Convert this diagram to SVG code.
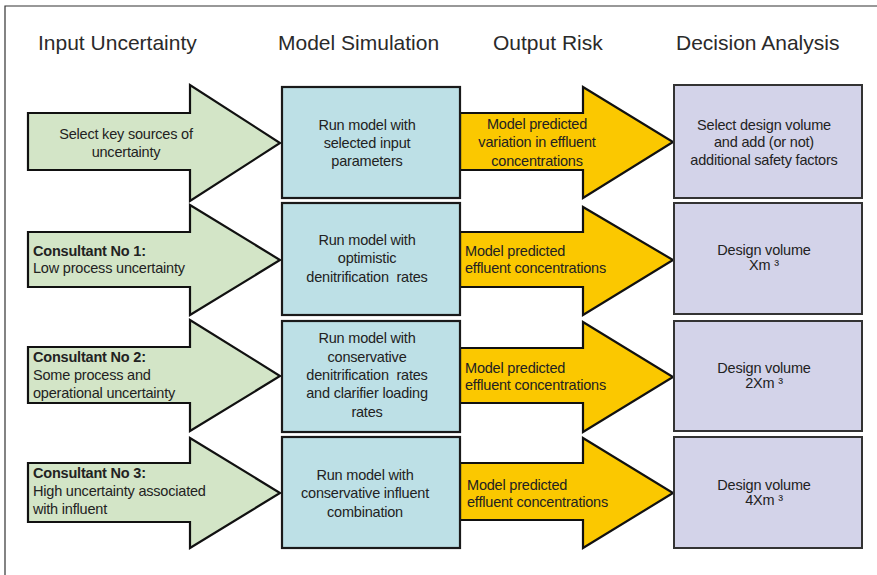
<svg xmlns="http://www.w3.org/2000/svg" width="877" height="575" viewBox="0 0 877 575">
<style>
.hdr{font-family:"Liberation Sans",Arial,sans-serif;font-size:21px;fill:#2a2a2a;}
.t{font-family:"Liberation Sans",Arial,sans-serif;font-size:14.5px;fill:#222;letter-spacing:-0.2px;}
.c{text-anchor:middle;}
.b{font-weight:bold;}
.green{fill:#d3e5c7;stroke:#111;stroke-width:2.2;stroke-linejoin:miter;}
.blue{fill:#bde0e6;stroke:#1a1a1a;stroke-width:2.2;}
.yellow{fill:#fbc800;stroke:#111;stroke-width:2.2;stroke-linejoin:miter;}
.purple{fill:#d3d3e9;stroke:#333;stroke-width:2;}
.frame{stroke:#333;stroke-width:1.2;fill:none;}
</style>
<rect x="0" y="0" width="877" height="575" fill="#ffffff"/>
<path class="frame" d="M5,575 V6 H877"/>
<g id="headers">
<text class="hdr" x="38" y="50">Input Uncertainty</text>
<text class="hdr" x="278" y="50">Model Simulation</text>
<text class="hdr" x="493" y="50">Output Risk</text>
<text class="hdr" x="676" y="50">Decision Analysis</text>
</g>
<g id="connectors">
<polygon class="green" points="28,113 190,113 190,85 280,143 190,201 190,170 28,170"/>
<polygon class="green" points="28,232 190,232 190,205 280,260 190,315 190,287 28,287"/>
<polygon class="green" points="28,347 190,347 190,320 280,376 190,431 190,403 28,403"/>
<polygon class="green" points="28,463 190,463 190,438 280,493 190,548 190,522 28,522"/>
<polygon class="yellow" points="460,113 583,113 583,87 673,142 583,198 583,170 460,170"/>
<polygon class="yellow" points="460,232 583,232 583,207 673,260 583,315 583,287 460,287"/>
<polygon class="yellow" points="460,348 583,348 583,322 673,377 583,432 583,403 460,403"/>
<polygon class="yellow" points="460,463 583,463 583,438 673,493 583,548 583,520 460,520"/>
</g>
<g id="input1"><text class="t c" x="126"><tspan x="126" y="139">Select key sources of</tspan><tspan x="126" y="157">uncertainty</tspan></text></g>
<g id="input2"><text class="t" x="33"><tspan class="b" x="33" y="256">Consultant No 1:</tspan><tspan x="33" y="273">Low process uncertainty</tspan></text></g>
<g id="input3"><text class="t" x="33"><tspan class="b" x="33" y="362">Consultant No 2:</tspan><tspan x="33" y="380">Some process and</tspan><tspan x="33" y="398">operational uncertainty</tspan></text></g>
<g id="input4"><text class="t" x="33"><tspan class="b" x="33" y="478">Consultant No 3:</tspan><tspan x="33" y="496">High uncertainty associated</tspan><tspan x="33" y="514">with influent</tspan></text></g>
<g id="model1"><rect class="blue" x="282" y="87" width="178" height="111"/><text class="t c"><tspan x="367" y="130">Run model with</tspan><tspan x="367" y="148">selected input</tspan><tspan x="367" y="166">parameters</tspan></text></g>
<g id="model2"><rect class="blue" x="282" y="203" width="178" height="112"/><text class="t c" xml:space="preserve"><tspan x="367" y="245">Run model with</tspan><tspan x="367" y="263">optimistic</tspan><tspan x="367" y="282">denitrification  rates</tspan></text></g>
<g id="model3"><rect class="blue" x="282" y="321" width="178" height="111"/><text class="t c" xml:space="preserve"><tspan x="367" y="343">Run model with</tspan><tspan x="367" y="362">conservative</tspan><tspan x="367" y="380">denitrification  rates</tspan><tspan x="367" y="398">and clarifier loading</tspan><tspan x="367" y="417">rates</tspan></text></g>
<g id="model4"><rect class="blue" x="282" y="437" width="178" height="111"/><text class="t c"><tspan x="365" y="480">Run model with</tspan><tspan x="365" y="498">conservative influent</tspan><tspan x="365" y="517">combination</tspan></text></g>
<g id="risk1"><text class="t c"><tspan x="537" y="129">Model predicted</tspan><tspan x="537" y="147">variation in effluent</tspan><tspan x="537" y="166">concentrations</tspan></text></g>
<g id="risk2"><text class="t"><tspan x="465" y="256">Model predicted</tspan><tspan x="465" y="273">effluent concentrations</tspan></text></g>
<g id="risk3"><text class="t"><tspan x="465" y="373">Model predicted</tspan><tspan x="465" y="390">effluent concentrations</tspan></text></g>
<g id="risk4"><text class="t"><tspan x="467" y="490">Model predicted</tspan><tspan x="467" y="507">effluent concentrations</tspan></text></g>
<g id="decision1"><rect class="purple" x="674" y="85" width="188" height="113"/><text class="t c"><tspan x="764" y="130">Select design volume</tspan><tspan x="764" y="147">and add (or not)</tspan><tspan x="764" y="165">additional safety factors</tspan></text></g>
<g id="decision2"><rect class="purple" x="674" y="203" width="188" height="111"/><text class="t c"><tspan x="764" y="255">Design volume</tspan><tspan x="764" y="270">Xm ³</tspan></text></g>
<g id="decision3"><rect class="purple" x="674" y="321" width="188" height="110"/><text class="t c"><tspan x="764" y="373">Design volume</tspan><tspan x="764" y="388">2Xm ³</tspan></text></g>
<g id="decision4"><rect class="purple" x="674" y="437" width="188" height="111"/><text class="t c"><tspan x="764" y="490">Design volume</tspan><tspan x="764" y="505">4Xm ³</tspan></text></g>
</svg>
